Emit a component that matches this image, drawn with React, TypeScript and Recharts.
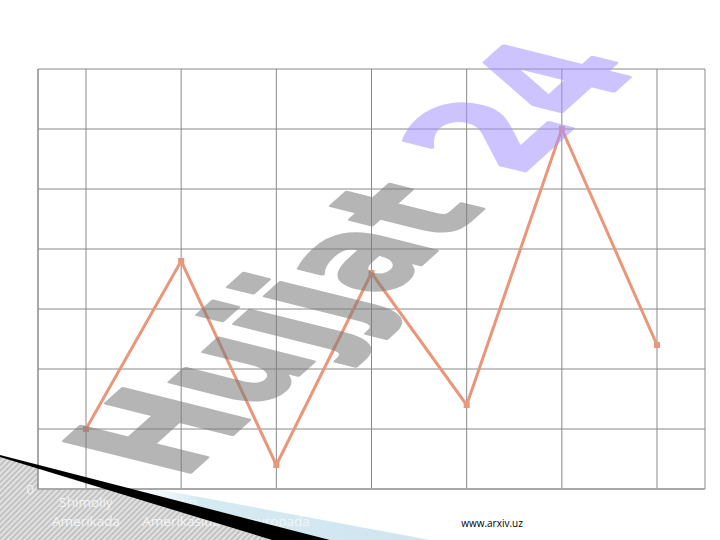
import React from 'react';
import { LineChart, Line, XAxis, YAxis, CartesianGrid } from 'recharts';

const categories = ['Shimoliy Amerikada', 'Lotin Amerikasida', 'Yevropada', 'D', 'E', 'F', 'G'];
const xTickLabels = ['Shimoliy Amerikada', 'Lotin Amerikasida', 'Yevropada', '', '', '', ''];
const seriesValues = [1.0, 3.8, 0.4, 3.6, 1.4, 6.0, 2.4];
const yTicks = [0, 1, 2, 3, 4, 5, 6, 7];
const yTickLabels = ['0', '', '', '', '', '', '', ''];

const data = categories.map((name, i) => ({ name, value: seriesValues[i] }));

const XTick = (props: any) => {
  const { x, y, payload } = props;
  const idx = categories.indexOf(String(payload?.value));
  const label: string = idx >= 0 ? xTickLabels[idx] : '';
  if (!label) return <g />;
  const words = label.split(' ');
  const lines = words.length === 1 ? ['', words[0]] : words;
  return (
    <g>
      {lines.map((ln, i) =>
        ln ? (
          <text
            key={i}
            x={x}
            y={y + 10 + i * 19}
            textAnchor="middle"
            fill="#f4f4f4"
            fontFamily="Open Sans, sans-serif"
            fontSize={13.5}
          >
            {ln}
          </text>
        ) : null
      )}
    </g>
  );
};

const SquareDot = (props: any) => {
  const { cx, cy, index } = props;
  if (cx == null || cy == null) return <g key={index} />;
  return <rect key={index} x={cx - 3} y={cy - 3} width={6} height={6} fill="#E9967A" />;
};

export default function App() {
  return (
    <div style={{ position: 'absolute', left: 0, top: 0, width: 720, height: 540, background: '#fff', overflow: 'hidden' }}>
      <svg width={720} height={540} style={{ position: 'absolute', left: 0, top: 0 }}>
        <defs>
          <pattern id="hatch" width="4" height="4" patternUnits="userSpaceOnUse" patternTransform="rotate(45)">
            <rect width="4" height="4" fill="#e2e2e2" />
            <rect width="2" height="4" fill="#c2c2c2" />
          </pattern>
          <linearGradient id="blueFade" x1="0" y1="0" x2="1" y2="0">
            <stop offset="0" stopColor="#d6eaf3" stopOpacity="0" />
            <stop offset="0.2" stopColor="#d6eaf3" stopOpacity="1" />
            <stop offset="1" stopColor="#cfe5ef" stopOpacity="1" />
          </linearGradient>
        </defs>
        <polygon points="140,486 430,540 330,540 140,491" fill="url(#blueFade)" />
        <polygon points="0,456 272,540 0,540" fill="url(#hatch)" />
      </svg>
      <div style={{ position: 'absolute', left: 0, top: 0 }}>
        <LineChart width={720} height={540} data={data} margin={{ top: 69, right: 15, bottom: 21, left: 8 }}>
          <CartesianGrid stroke="#8a8a8a" fill="#ffffff" />
          <XAxis
            dataKey="name"
            interval={0}
            height={30}
            padding={{ left: 48, right: 48 }}
            tickLine={false}
            axisLine={{ stroke: '#a8a8a8', strokeWidth: 2 }}
            tick={<XTick />}
          />
          <YAxis
            width={30}
            domain={[0, 7]}
            ticks={yTicks}
            tickLine={false}
            tickSize={1}
            tickMargin={3}
            axisLine={{ stroke: '#8a8a8a' }}
            tickFormatter={(v: number) => yTickLabels[yTicks.indexOf(v)] ?? ''}
            tick={{ fill: '#f4f4f4', fontFamily: 'Open Sans, sans-serif', fontSize: 13 }}
          />
          <Line
            type="linear"
            dataKey="value"
            stroke="#E9967A"
            strokeWidth={3}
            dot={<SquareDot />}
            isAnimationActive={false}
          />
        </LineChart>
      </div>
      <svg width={720} height={540} style={{ position: 'absolute', left: 0, top: 0, pointerEvents: 'none' }}>
        <polygon points="0,455 330,540 272,540 0,457" fill="#000" />
        <g opacity={0.55}>
          <text
            transform="translate(182,480) rotate(-42) skewX(34) scale(1,1.22)"
            fontFamily="DejaVu Sans, sans-serif"
            fontWeight="bold"
            fontSize={121}
            strokeWidth={3}
            strokeLinejoin="round"
          >
            <tspan fill="#7a7a7a" stroke="#7a7a7a">Hujjat</tspan>
            <tspan fill="#a594ff" stroke="#a594ff"> 24</tspan>
          </text>
        </g>
        <text x={492} y={527} textAnchor="middle" fontFamily="Open Sans, sans-serif" fontSize={10} fill="#000">
          www.arxiv.uz
        </text>
      </svg>
    </div>
  );
}
